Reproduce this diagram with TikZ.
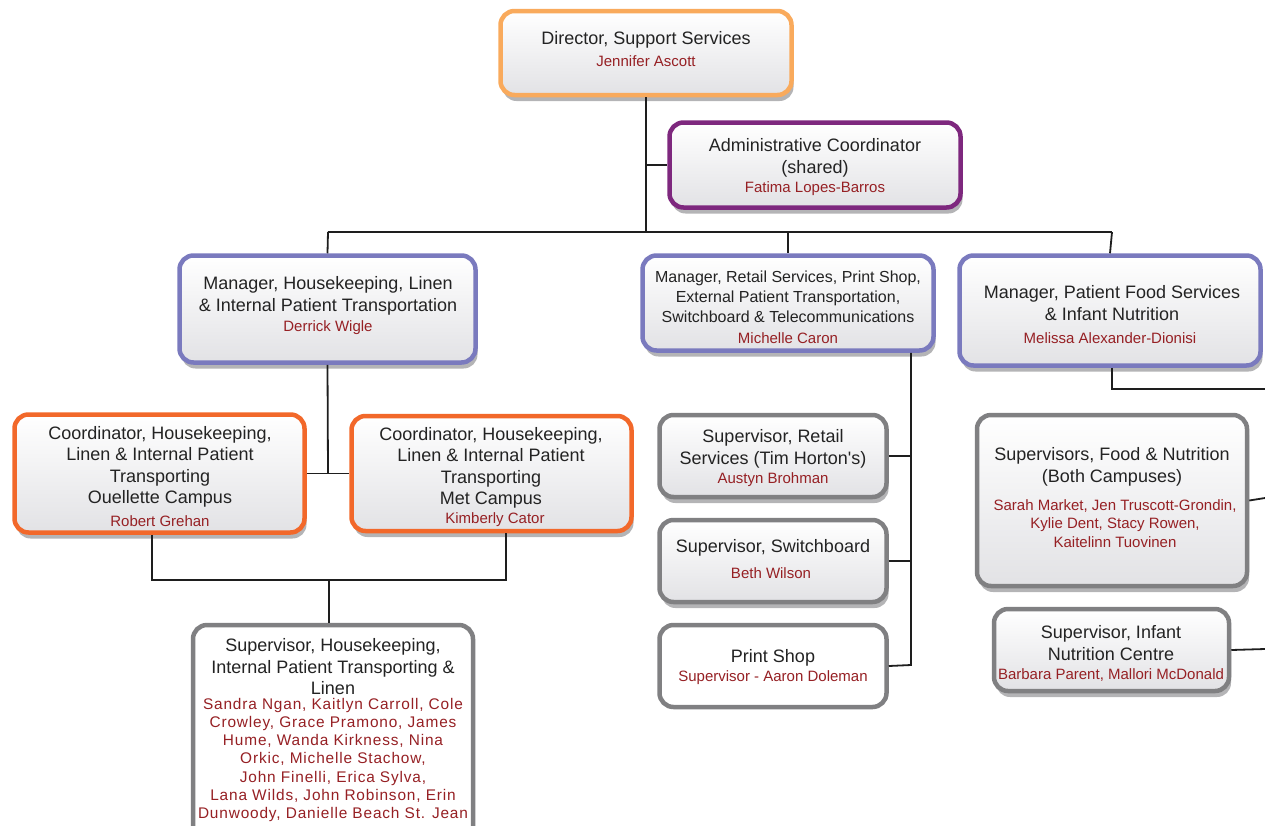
\documentclass[tikz,border=0pt]{standalone}
\usepackage{fontspec}
\setmainfont{Liberation Sans}
\usetikzlibrary{shadows}
\definecolor{txt}{RGB}{35,35,35}
\definecolor{nmred}{RGB}{150,32,36}
\definecolor{orlight}{RGB}{249,170,92}
\definecolor{purp}{RGB}{126,40,126}
\definecolor{bluec}{RGB}{122,122,190}
\definecolor{ordark}{RGB}{242,104,42}
\definecolor{grayc}{RGB}{128,128,130}
\definecolor{gradbot}{RGB}{226,226,229}
\definecolor{shadowgray}{RGB}{180,180,182}
\definecolor{linec}{RGB}{30,30,30}
\tikzset{
  box/.style={rounded corners=14pt, line width=4.5pt, draw=#1, top color=white, bottom color=gradbot,
    drop shadow={shadow xshift=2pt, shadow yshift=-6pt, fill=shadowgray, opacity=1}, inner sep=0pt},
  plainbox/.style={rounded corners=14pt, line width=4.5pt, draw=#1, fill=white, inner sep=0pt},
  title/.style={font=\fontsize{18}{21.5}\selectfont, text=txt, align=center, inner sep=0pt, yshift=-2pt},
  smalltitle/.style={font=\fontsize{16}{20}\selectfont, text=txt, align=center, inner sep=0pt, yshift=-1pt},
  nm/.style={font=\fontsize{15}{18.2}\selectfont, text=nmred, align=center, inner sep=0pt},
  widenm/.style={font=\fontsize{15.4}{18.2}\selectfont\addfontfeature{LetterSpace=5.5}, text=nmred, align=center, inner sep=0pt},
  conn/.style={line width=1.8pt, draw=linec},
}
\begin{document}
\begin{tikzpicture}[x=1pt,y=-1pt]
\useasboundingbox (0,0) rectangle (1265,825);
\clip (0,0) rectangle (1265,825);
% boxes
\node[box=orlight, minimum width=291pt, minimum height=84pt] (dir) at (646,53) {};
\node[box=purp, minimum width=291pt, minimum height=85pt] (adm) at (815,165) {};
\node[box=bluec, minimum width=296pt, minimum height=107pt] (mhk) at (327.5,309) {};
\node[box=bluec, minimum width=291pt, minimum height=95pt] (mret) at (788,303) {};
\node[box=bluec, minimum width=301pt, minimum height=110pt] (mfood) at (1110,310.5) {};
\node[box=ordark, minimum width=290pt, minimum height=118pt] (co) at (159.5,473.5) {};
\node[box=ordark, minimum width=280pt, minimum height=115pt] (cm) at (491.5,473.5) {};
\node[plainbox=grayc, minimum width=280pt, minimum height=230pt] (shk) at (333,740) {};
\node[box=grayc, minimum width=227pt, minimum height=82pt] (sret) at (773,456) {};
\node[box=grayc, minimum width=227pt, minimum height=82pt] (ssw) at (773,561) {};
\node[plainbox=grayc, minimum width=227pt, minimum height=82pt] (print) at (773,666) {};
\node[box=grayc, minimum width=270pt, minimum height=171pt] (sfood) at (1112,500.5) {};
\node[box=grayc, minimum width=235pt, minimum height=82pt] (inf) at (1111.5,650) {};
% texts
\node[title] (dirT) at (646,38) {Director, Support Services};
\node[nm] (dirN) at (646,61) {Jennifer Ascott};
\node[title] (admT) at (815,156) {Administrative Coordinator\\(shared)};
\node[nm] (admN) at (815,189) {Fatima Lopes-Barros};
\node[title] (mhkT) at (328,294) {Manager, Housekeeping, Linen\\\& Internal Patient Transportation};
\node[nm] (mhkN) at (328,328) {Derrick Wigle};
\node[smalltitle] (mretT) at (788,295.5) {Manager, Retail Services, Print Shop,\\External Patient Transportation,\\Switchboard \& Telecommunications};
\node[nm] (mretN) at (788,338) {Michelle Caron};
\node[title] (mfoodT) at (1112,301) {Manager, Patient Food Services\\\& Infant Nutrition};
\node[nm] (mfoodN) at (1110,338) {Melissa Alexander-Dionisi};
\node[title] (coT) at (160,465) {Coordinator, Housekeeping,\\Linen \& Internal Patient\\Transporting\\Ouellette Campus};
\node[nm] (coN) at (160,521) {Robert Grehan};
\node[title] (cmT) at (491,466) {Coordinator, Housekeeping,\\Linen \& Internal Patient\\Transporting\\Met Campus};
\node[nm] (cmN) at (495,520) {Kimberly Cator};
\node[title] (shkT) at (333,665) {Supervisor, Housekeeping,\\Internal Patient Transporting \&\\Linen};
\node[widenm] (shkN) at (333,760) {Sandra Ngan, Kaitlyn Carroll, Cole\\Crowley, Grace Pramono, James\\Hume, Wanda Kirkness, Nina\\Orkic, Michelle Stachow,\\John Finelli, Erica Sylva,\\Lana Wilds, John Robinson, Erin\\Dunwoody, Danielle Beach St. Jean};
\node[title] (sretT) at (773,447) {Supervisor, Retail\\Services (Tim Horton\textquotesingle s)};
\node[nm] (sretN) at (773,480) {Austyn Brohman};
\node[title] (sswT) at (773,546) {Supervisor, Switchboard};
\node[nm] (sswN) at (771,573) {Beth Wilson};
\node[title] (printT) at (773,656) {Print Shop};
\node[nm] (printN) at (773,678) {Supervisor - Aaron Doleman};
\node[title] (sfoodT) at (1112,465) {Supervisors, Food \& Nutrition\\(Both Campuses)};
\node[nm] (sfoodN) at (1115,523.5) {Sarah Market, Jen Truscott-Grondin,\\Kylie Dent, Stacy Rowen,\\Kaitelinn Tuovinen};
\node[title] (infT) at (1111,641) {Supervisor, Infant\\Nutrition Centre};
\node[nm] (infN) at (1111,675) {Barbara Parent, Mallori McDonald};
% connector coordinates
\coordinate (j1) at (646,232);
\coordinate (j2) at (328,232);
\coordinate (j3) at (1112,232);
\coordinate (j4) at (328,473.5);
\coordinate (b1) at (152,580);
\coordinate (b2) at (506,580);
\coordinate (b3) at (329,580);
\coordinate (r1) at (911,665);
\coordinate (f1) at (1112,389);
\coordinate (f2) at (1265,389);
\coordinate (e1) at (1265,498);
\coordinate (e2) at (1265,649);
% connectors
\draw[conn] (dir.south) -- (j1);
\draw[conn] (646,165) -- (adm.west);
\draw[conn] (j2) -- (j3);
\draw[conn] (j2) -- (mhk.north);
\draw[conn] (788,232) -- (mret.north);
\draw[conn] (j3) -- (mfood.north);
\draw[conn] (mhk.south) -- (j4);
\draw[conn] (co.east) -- (cm.west);
\draw[conn] (co.south -| b1) -- (b1) -- (b2) -- (cm.south -| b2);
\draw[conn] (b3) -- (shk.north -| b3);
\draw[conn] (mret.south -| r1) -- (r1) -- (print.east);
\draw[conn] (sret.east) -- (sret.east -| r1);
\draw[conn] (ssw.east) -- (ssw.east -| r1);
\draw[conn] (mfood.south -| f1) -- (f1) -- (f2);
\draw[conn] (sfood.east) -- (e1);
\draw[conn] (inf.east) -- (e2);
\end{tikzpicture}
\end{document}
